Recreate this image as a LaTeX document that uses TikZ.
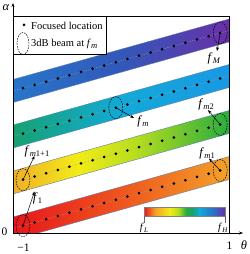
\documentclass[tikz,border=0pt]{standalone}
\usepackage{fontspec}
\setmainfont{Liberation Serif}
\usetikzlibrary{arrows.meta,shapes.geometric}

\definecolor{dA}{RGB}{232,22,28}
\definecolor{dB}{RGB}{238,85,30}
\definecolor{dC}{RGB}{244,162,40}
\definecolor{cA}{RGB}{240,175,40}
\definecolor{cB}{RGB}{242,236,22}
\definecolor{cC}{RGB}{185,222,30}
\definecolor{cD}{RGB}{40,172,62}
\definecolor{bA}{RGB}{22,162,112}
\definecolor{bB}{RGB}{18,170,215}
\definecolor{bC}{RGB}{25,152,228}
\definecolor{aA}{RGB}{38,118,202}
\definecolor{aB}{RGB}{50,88,185}
\definecolor{aC}{RGB}{105,48,168}
\definecolor{edge}{RGB}{95,125,175}

\pgfdeclarehorizontalshading{shD}{100bp}{color(0bp)=(dA); color(25bp)=(dA); color(50bp)=(dB); color(75bp)=(dC); color(100bp)=(dC)}
\pgfdeclarehorizontalshading{shC}{100bp}{color(0bp)=(cA); color(25bp)=(cA); color(40bp)=(cB); color(53bp)=(cC); color(75bp)=(cD); color(100bp)=(cD)}
\pgfdeclarehorizontalshading{shB}{100bp}{color(0bp)=(bA); color(25bp)=(bA); color(50bp)=(bB); color(75bp)=(bC); color(100bp)=(bC)}
\pgfdeclarehorizontalshading{shA}{100bp}{color(0bp)=(aA); color(25bp)=(aA); color(50bp)=(aB); color(75bp)=(aC); color(100bp)=(aC)}
\pgfdeclarehorizontalshading{shBar}{100bp}{color(0bp)=(dA); color(25bp)=(dA); color(32bp)=(dC); color(41bp)=(cB); color(46bp)=(cC); color(51bp)=(cD); color(55bp)=(bA); color(59bp)=(bB); color(67bp)=(aA); color(75bp)=(aC); color(100bp)=(aC)}

\newcommand{\fq}[1]{\textit{f}\kern0.2pt\raisebox{-0.45ex}{\fontsize{8.5}{8.5}\selectfont #1}}
\newcommand{\fqs}[1]{\textit{f}\kern0.2pt\raisebox{-0.45ex}{\fontsize{7}{7}\selectfont #1}}

\begin{document}
\begin{tikzpicture}[x=1pt,y=-1pt,
  beam/.style={ellipse,draw,dash pattern=on 1.6pt off 1.1pt,line width=0.5pt,inner sep=0pt,minimum width=14pt,minimum height=22pt},
  lbl/.style={inner sep=0pt,font=\fontsize{12.5}{12.5}\selectfont},
  arr/.style={-{Stealth[length=4pt,width=3pt]},line width=0.5pt},
  axis/.style={line width=0.6pt,-{Stealth[length=4pt,width=3pt]}},
  frame/.style={line width=0.5pt}]
\useasboundingbox (0,0) rectangle (249,254);

% bands
\begin{scope}
\clip (13,16) rectangle (229,233);
\foreach \c/\sh in {228.5/shD,182.5/shC,136.5/shB,91/shA}{
  \shade[shading=\sh] (13,{\c-11.5}) -- (229,{\c-11.5-60.48}) -- (229,{\c+11.5-60.48}) -- (13,{\c+11.5}) -- cycle;
  \draw[edge,line width=0.4pt] (13,{\c-11.5}) -- (229,{\c-11.5-60.48});
  \draw[edge,line width=0.4pt] (13,{\c+11.5}) -- (229,{\c+11.5-60.48});
  \draw[gray!70,line width=0.3pt,dash pattern=on 1pt off 1pt] (13,\c) -- (229,{\c-60.48});
  \foreach \i in {0,...,17}
    \fill ({23+\i*11.6},{\c-0.28*(10+\i*11.6)}) circle[radius=1.5pt];
}
\end{scope}

% frame and axes
\draw[frame] (13,16) -- (229,16) -- (229,233);
\draw[axis] (13,233) -- (13,3);
\draw[axis] (13,233) -- (243,233);
\node[lbl] (alpha) at (6,8) {\textit{α}};
\node[lbl] (theta) at (244,245) {\textit{θ}};
\node[lbl,font=\fontsize{11.5}{11.5}\selectfont] (one) at (229.5,245.5) {1};
\node[lbl,font=\fontsize{11.5}{11.5}\selectfont] (mone) at (23.5,247.5) {−1};
\node[lbl,font=\fontsize{11.5}{11.5}\selectfont] (zero) at (4.5,232) {0};

% legend
\draw[frame,fill=white] (13,16) rectangle (106,54);
\fill (24,25) circle[radius=1.5pt];
\node[lbl,anchor=west,font=\fontsize{10.5}{10.5}\selectfont] (leg1) at (31,25.5) {Focused location};
\node[beam,minimum width=12pt,minimum height=22pt] (legb) at (23,43.5) {};
\node[lbl,anchor=west,font=\fontsize{10.5}{10.5}\selectfont] (leg2) at (31,43.5) {3dB beam at \fq{\textit{m}}};

% beams
\node[beam] (b1) at (23,225.7) {};
\node[beam] (bm1) at (220.2,170.5) {};
\node[beam] (bm11) at (23,179.7) {};
\node[beam] (bm2) at (220.2,124.5) {};
\node[beam] (bm) at (115.8,107.7) {};
\node[beam] (bM) at (220.2,33) {};

% labels
\node[lbl] (l1) at (37.5,198) {\fq{1}};
\node[lbl] (lm11) at (37,151) {\fq{\textit{m}1+1}};
\node[lbl] (lm1) at (207,153) {\fq{\textit{m}1}};
\node[lbl] (lm2) at (206,104) {\fq{\textit{m}2}};
\node[lbl] (lm) at (143,121) {\fq{\textit{m}}};
\node[lbl] (lM) at (214,58) {\fq{\textit{M}}};

\coordinate (t1) at (34.5,191.5);
\coordinate (tm11) at (34.5,156);
\coordinate (tm1) at (209,158.5);
\coordinate (tm2) at (208,110);
\coordinate (tm) at (134,118);
\coordinate (tM) at (217,51);
\draw[arr] (b1.center) -- (t1);
\draw[arr] (bm11.center) -- (tm11);
\draw[arr] (bm1.center) -- (tm1);
\draw[arr] (bm2.center) -- (tm2);
\draw[arr] (bm.center) -- (tm);
\draw[arr] (bM.center) -- (tM);

% colour bar
\shade[shading=shBar,draw=gray,line width=0.4pt] (144,207) rectangle (225,216);
\draw[gray!80!black,line width=0.4pt] (144,216) -- (144,223);
\draw[gray!80!black,line width=0.4pt] (225,216) -- (225,223);
\node[lbl,font=\fontsize{10.5}{10.5}\selectfont] (fL) at (144,228) {\fqs{\textit{L}}};
\node[lbl,font=\fontsize{10.5}{10.5}\selectfont] (fH) at (223,228) {\fqs{\textit{H}}};
\end{tikzpicture}
\end{document}
